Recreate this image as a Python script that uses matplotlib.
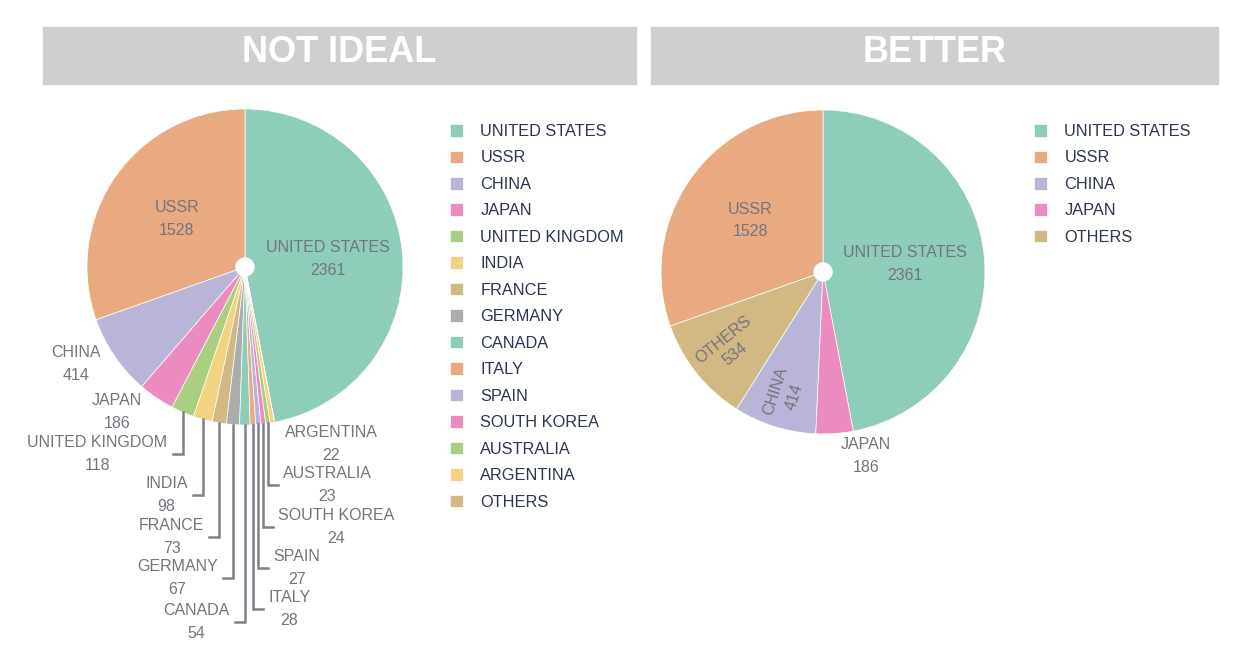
import numpy as np
import matplotlib
matplotlib.use("Agg")
import matplotlib.pyplot as plt
from matplotlib.patches import Rectangle, Circle

plt.rcParams['font.family'] = ['Liberation Sans', 'DejaVu Sans']

# data
countries = ["UNITED STATES", "USSR", "CHINA", "JAPAN", "UNITED KINGDOM",
             "INDIA", "FRANCE", "GERMANY", "CANADA", "ITALY", "SPAIN",
             "SOUTH KOREA", "AUSTRALIA", "ARGENTINA", "OTHERS"]
counts = [2361, 1528, 414, 186, 118, 98, 73, 67, 54, 28, 27, 24, 23, 22, 0]

better_countries = ["UNITED STATES", "USSR", "CHINA", "JAPAN", "OTHERS"]
better_counts = [2361, 1528, 414, 186, 534]
better_order = [0, 1, 4, 2, 3]   # order of slices around the pie

palette = ["#8ecdb9", "#e9a981", "#b8b5d8", "#ec8bc0",
           "#aacf80", "#f3d282", "#d2b882", "#acacac"]

W, H = 1241, 650
LABEL_C = "#74747e"
LEGEND_C = "#2c3652"
BAR_C = "#d0cece"

fig = plt.figure(figsize=(W / 100, H / 100), dpi=100)
ax = fig.add_axes([0, 0, 1, 1])


def Y(y):
    # image rows -> axes units (y up)
    return H - y


def draw_pie(values, colors, cx, cy, r):
    start = 90 - 360 * values[0] / sum(values)
    wedges, _ = ax.pie(values, colors=colors, startangle=start,
                       counterclock=True, center=(cx, Y(cy)), radius=r,
                       wedgeprops=dict(edgecolor="white", linewidth=0.5))
    ax.add_patch(Circle((cx, Y(cy)), 9, color="white", zorder=5))
    return wedges


def mid_point(w, frac):
    a = np.deg2rad((w.theta1 + w.theta2) / 2)
    cx, cy = w.center
    return cx + frac * w.r * np.cos(a), cy + frac * w.r * np.sin(a)


def label(x, y, name, val, rot=0, ha="center", ls=1.65):
    ax.text(x, y, "%s\n%d" % (name, val), ha=ha, va="center",
            multialignment="center", fontsize=11.5, color=LABEL_C,
            linespacing=ls, rotation=rot, rotation_mode="anchor", zorder=6)


def legend(handles, names, x, y):
    return ax.legend(handles, names, loc="upper left",
                     bbox_to_anchor=(x, Y(y)), bbox_transform=ax.transData,
                     frameon=False, fontsize=11.8, handlelength=0.8,
                     handleheight=0.8, handletextpad=1.05, labelspacing=0.7,
                     borderpad=0, borderaxespad=0, labelcolor=LEGEND_C)


# ---------- left: NOT IDEAL ----------
colors = [palette[i % len(palette)] for i in range(len(counts))]
wl = draw_pie(counts, colors, 245, 267, 158)

for i in (0, 1):
    x, y = mid_point(wl[i], 0.53)
    label(x, y, countries[i], counts[i])

label(76, Y(364), countries[2], counts[2])
label(117, Y(412), countries[3], counts[3])
label(331, Y(444), countries[13], counts[13])

# leader lines: drop level (image row) and side
leaders = {4: (454, -1), 5: (495, -1), 6: (537, -1), 7: (578, -1),
           8: (622, -1), 9: (609, 1), 10: (568, 1), 11: (527, 1),
           12: (485, 1)}
for i, (lev, side) in leaders.items():
    x0, y0 = mid_point(wl[i], 1.0)
    x1 = x0 + side * 10
    ax.plot([x0, x0, x1], [y0, Y(lev), Y(lev)], color="#80808a",
            lw=1.8, solid_joinstyle="miter", zorder=4)
    label(x1 + side * 5, Y(lev), countries[i], counts[i],
          ha="right" if side < 0 else "left")

# ---------- right: BETTER ----------
bv = [better_counts[i] for i in better_order]
bc = [palette[[0, 1, 2, 3, 6][i]] for i in better_order]
wr_ = draw_pie(bv, bc, 823, 272, 162)
wr = {better_order[k]: w for k, w in enumerate(wr_)}

for i, frac in ((0, 0.51), (1, 0.55)):
    x, y = mid_point(wr[i], frac)
    label(x, y, better_countries[i], better_counts[i])
for i, frac in ((4, 0.74), (2, 0.79)):
    x, y = mid_point(wr[i], frac)
    rot = (wr[i].theta1 + wr[i].theta2) / 2 - 180
    label(x, y, better_countries[i], better_counts[i], rot=rot, ls=1.35)
label(866, Y(456), better_countries[3], better_counts[3])

leg2 = legend([wr[i] for i in range(len(better_countries))],
              better_countries, 1034, 124)
ax.add_artist(leg2)
legend(wl, countries, 450, 124)

# ---------- title bars ----------
for x0, x1, title in ((43, 636, "NOT IDEAL"), (651, 1218, "BETTER")):
    ax.add_patch(Rectangle((x0, Y(84)), x1 - x0, 57, color=BAR_C, zorder=1))
    ax.text((x0 + x1) / 2, Y(52), title, ha="center", va="center",
            fontsize=26, fontweight="bold", color="white", zorder=2)

ax.set_xlim(0, W)
ax.set_ylim(0, H)
ax.axis("off")

fig.savefig("out.png", dpi=100)
